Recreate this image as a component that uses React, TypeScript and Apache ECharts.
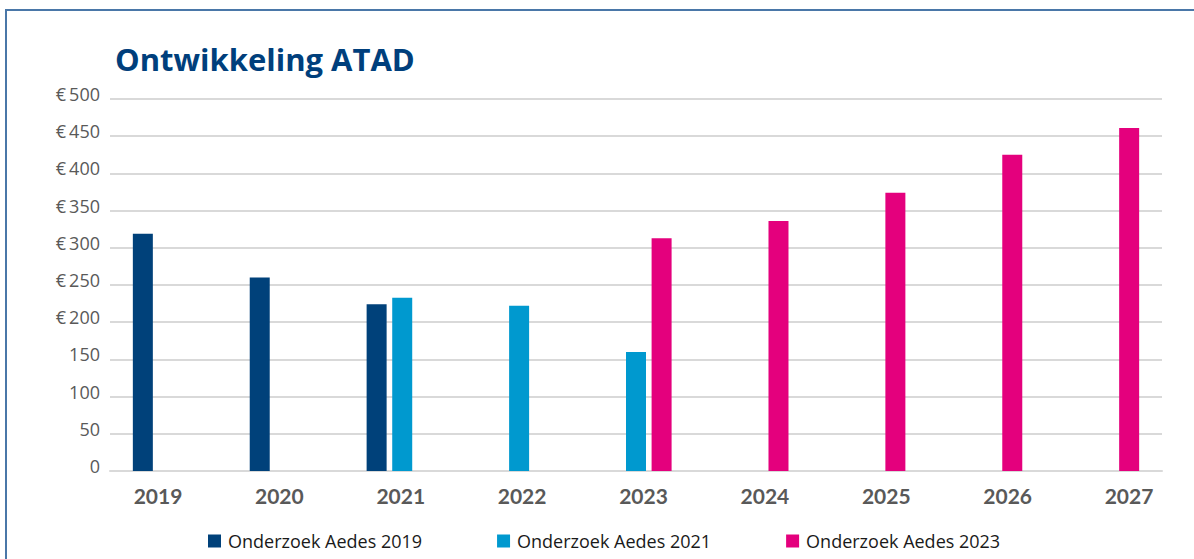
import React, { useEffect, useRef } from "react";
import * as echarts from "echarts";

const categories = ["2019", "2020", "2021", "2022", "2023", "2024", "2025", "2026", "2027"];
const seriesNames = ["Onderzoek Aedes 2019", "Onderzoek Aedes 2021", "Onderzoek Aedes 2023"];
const aedes2019 = [319, 260, 224, null, null, null, null, null, null];
const aedes2021 = [null, null, 233, 222, 160, null, null, null, null];
const aedes2023 = [null, null, null, null, 313, 336, 374, 425, 461];
const seriesColors = ["#00417a", "#0099cf", "#e4007d"];
const titleText = "Ontwikkeling ATAD";

export default function App() {
  const ref = useRef<HTMLDivElement>(null);
  useEffect(() => {
    if (!ref.current) return;
    const chart = echarts.init(ref.current, null, { renderer: "svg" });
    const values = [aedes2019, aedes2021, aedes2023];
    chart.setOption({
      animation: false,
      backgroundColor: "#ffffff",
      title: {
        text: titleText,
        left: 110,
        top: 38,
        textStyle: {
          fontFamily: "Open Sans",
          fontWeight: "bold",
          fontSize: 31,
          color: "#003f7c",
        },
      },
      graphic: [
        {
          type: "rect",
          shape: { x: 6, y: 10, width: 1220, height: 580 },
          style: { fill: "none", stroke: "#4a77a8", lineWidth: 2 },
          silent: true,
        },
      ],
      legend: {
        left: 203,
        top: 527,
        itemWidth: 13,
        itemHeight: 13,
        itemGap: 75,
        icon: "rect",
        textStyle: { fontFamily: "Open Sans", fontSize: 18, color: "#1a1a1a", padding: [0, 0, 0, 2] },
        data: seriesNames,
      },
      grid: [
        { left: 110, right: 32, top: 99, bottom: 88, containLabel: false },
        { left: 97.3, right: 4.3, top: 99, bottom: 88, containLabel: false },
      ],
      xAxis: [
        {
          type: "category",
          gridIndex: 0,
          data: categories,
          axisLine: { lineStyle: { color: "#d9d9d9", width: 2 } },
          axisTick: { show: false },
          axisLabel: { show: false },
        },
        {
          type: "category",
          gridIndex: 1,
          data: categories,
          axisLine: { show: false },
          axisTick: { show: false },
          axisLabel: {
            margin: 14,
            fontFamily: "Lato",
            fontWeight: "bold",
            fontSize: 21,
            color: "#595959",
          },
        },
      ],
      yAxis: [
        {
          type: "value",
          gridIndex: 0,
          min: 0,
          max: 500,
          interval: 50,
          axisLine: { show: false },
          axisTick: { show: false },
          splitLine: { lineStyle: { color: "#d9d9d9", width: 2 } },
          axisLabel: {
            margin: 10,
            fontFamily: "Open Sans",
            fontSize: 18,
            color: "#595959",
            verticalAlign: "bottom",
            lineHeight: 10,
            formatter: (v: number) => (v >= 200 ? `€\u2009${v}` : `${v}`),
          },
        },
        {
          type: "value",
          gridIndex: 1,
          min: 0,
          max: 500,
          show: false,
          splitLine: { show: false },
        },
      ],
      series: seriesNames.map((name, i) => ({
        name,
        type: "bar",
        xAxisIndex: 0,
        yAxisIndex: 0,
        data: values[i],
        barWidth: 20,
        barGap: "28%",
        itemStyle: { color: seriesColors[i] },
      })),
    });
    return () => chart.dispose();
  }, []);
  return (
    <div
      ref={ref}
      style={{ position: "fixed", left: 0, top: 0, width: 1194, height: 559 }}
    />
  );
}
